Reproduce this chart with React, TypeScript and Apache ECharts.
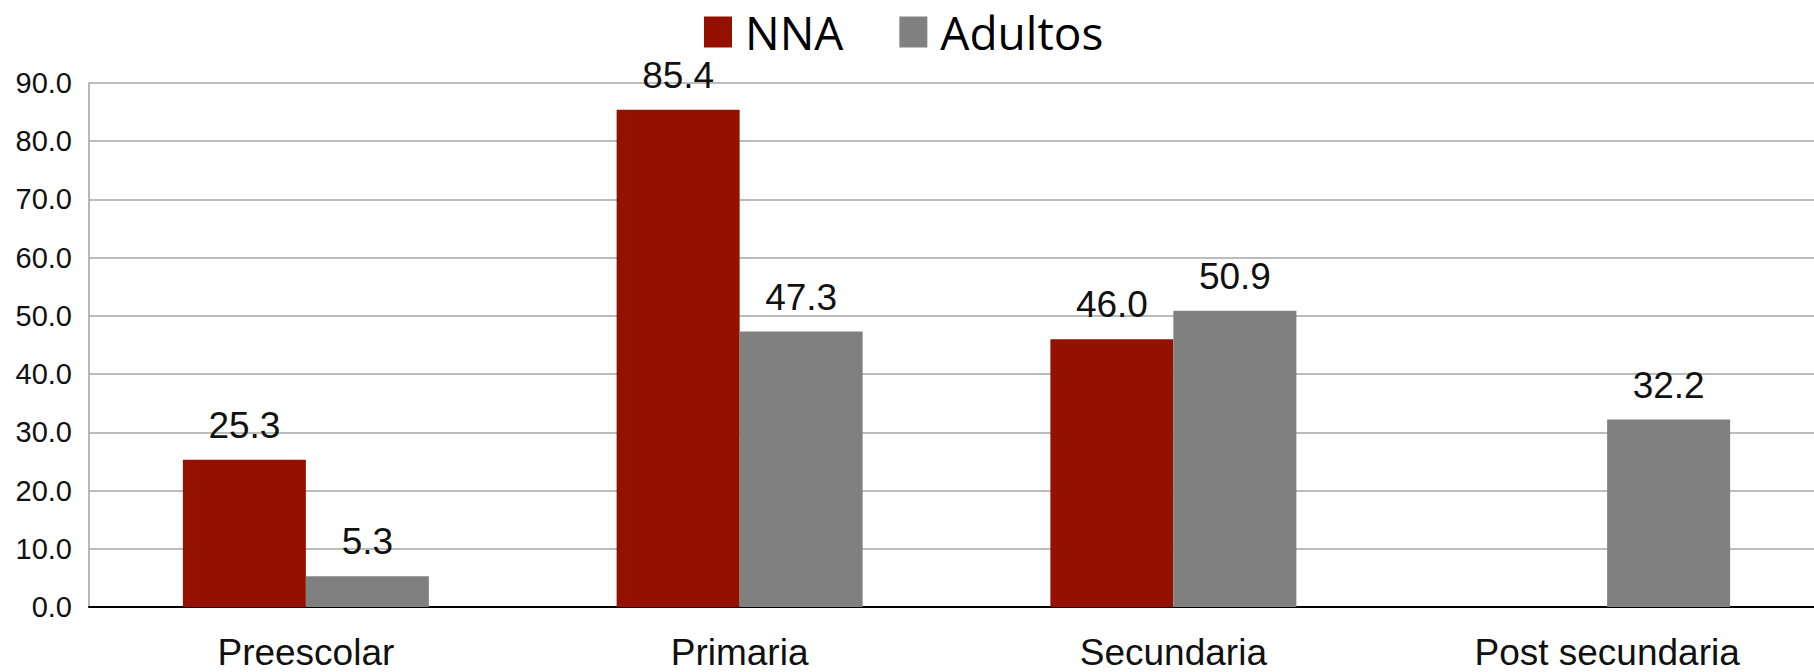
import React, { useEffect, useRef } from "react";
import * as echarts from "echarts";

const categories = ["Preescolar", "Primaria", "Secundaria", "Post secundaria"];
const nnaValues: (number | null)[] = [25.3, 85.4, 46.0, null];
const adultosValues: (number | null)[] = [5.3, 47.3, 50.9, 32.2];
const seriesNames = ["NNA", "Adultos"];
const yMin = 0;
const yMax = 90;
const yInterval = 10;

export default function App() {
  const ref = useRef<HTMLDivElement>(null);
  useEffect(() => {
    document.body.style.margin = "0";
    document.body.style.overflow = "hidden";
    if (!ref.current) return;
    const chart = echarts.init(ref.current, undefined, { renderer: "svg" });
    const labelStyle = {
      show: true,
      position: "top" as const,
      distance: 16,
      fontFamily: "Liberation Sans",
      fontSize: 37,
      color: "#111",
      formatter: (p: any) => (p.value == null ? "" : Number(p.value).toFixed(1)),
    };
    chart.setOption({
      animation: false,
      backgroundColor: "#ffffff",
      legend: {
        data: seriesNames,
        top: 4,
        left: 699,
        itemWidth: 28,
        itemHeight: 31,
        itemGap: 56,
        icon: "rect",
        textStyle: { fontFamily: "Open Sans", fontSize: 46, color: "#000", padding: [0, 0, 0, 8] },
      },
      grid: { left: 89, top: 83, right: 0, bottom: 65, containLabel: false },
      xAxis: {
        type: "category",
        data: categories,
        axisLine: { lineStyle: { color: "#000", width: 2 } },
        axisTick: { show: false },
        axisLabel: {
          fontFamily: "Liberation Sans",
          fontSize: 37,
          color: "#111",
          margin: 27,
        },
      },
      yAxis: {
        type: "value",
        min: yMin,
        max: yMax,
        interval: yInterval,
        axisLine: { show: true, lineStyle: { color: "#a0a0a0", width: 1.5 } },
        axisTick: { show: false },
        splitLine: { lineStyle: { color: "#a6a6a6", width: 1.5 } },
        axisLabel: {
          fontFamily: "Liberation Sans",
          fontSize: 29,
          color: "#111",
          margin: 17,
          formatter: (v: number) => v.toFixed(1),
        },
      },
      series: [
        {
          name: seriesNames[0],
          type: "bar",
          data: nnaValues,
          barWidth: 123,
          barGap: "0%",
          itemStyle: { color: "#941100" },
          label: labelStyle,
        },
        {
          name: seriesNames[1],
          type: "bar",
          data: adultosValues,
          barWidth: 123,
          barGap: "0%",
          itemStyle: { color: "#808080" },
          label: labelStyle,
        },
      ],
    });
    return () => chart.dispose();
  }, []);
  return (
    <div style={{ width: 1814, height: 672, overflow: "hidden", position: "relative" }}>
      <div ref={ref} style={{ width: 1824, height: 672 }} />
    </div>
  );
}
